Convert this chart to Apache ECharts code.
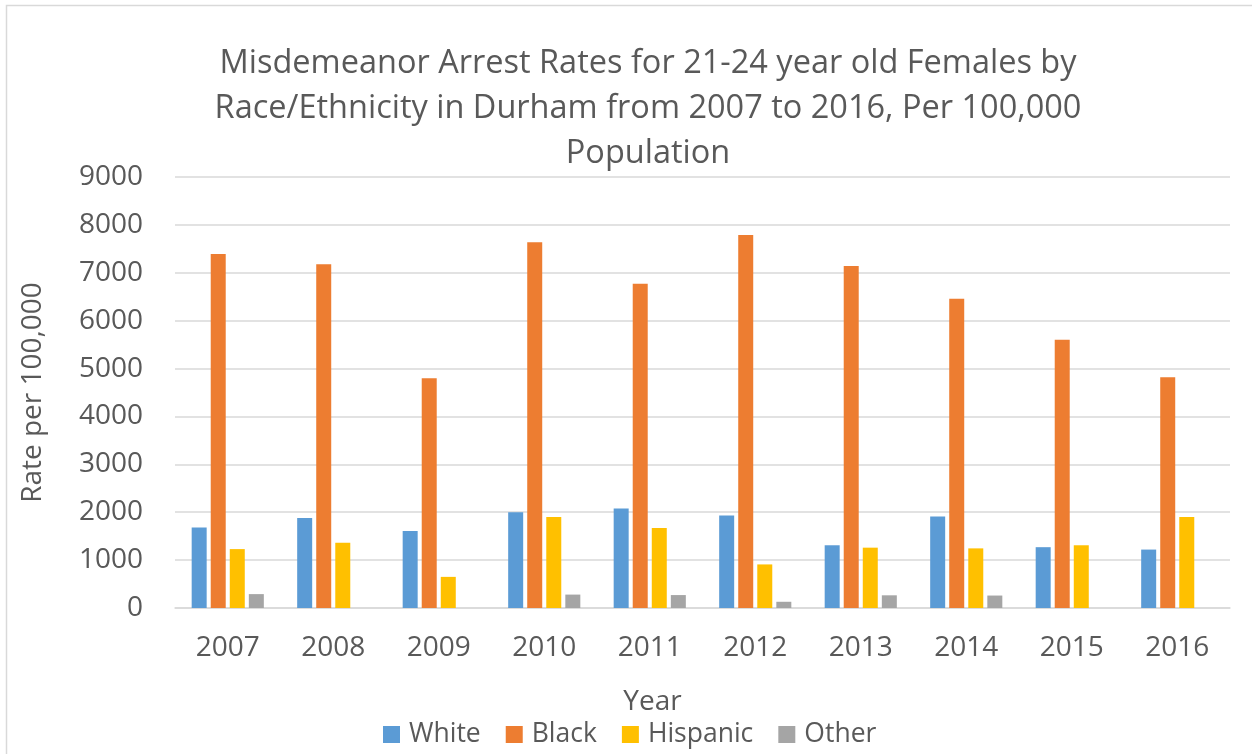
<!DOCTYPE html>
<html>
<head>
<meta charset="utf-8">
<script src="https://cdn.jsdelivr.net/npm/echarts@6/dist/echarts.min.js"></script>
<style>
  html, body { margin: 0; padding: 0; background: #fff; }
  #chart { width: 1252px; height: 754px; }
</style>
</head>
<body>
<div id="chart"></div>
<script>
// years on the x axis
var years = ['2007', '2008', '2009', '2010', '2011', '2012', '2013', '2014', '2015', '2016'];
// rates per 100,000 (null = no bar)
var white = [1680, 1880, 1610, 2000, 2080, 1930, 1310, 1910, 1270, 1220];
var black = [7390, 7180, 4800, 7640, 6770, 7790, 7140, 6460, 5600, 4820];
var hispanic = [1230, 1360, 650, 1900, 1670, 910, 1260, 1245, 1310, 1900];
var other = [290, null, null, 280, 270, 130, 265, 260, null, null];

var textColor = '#595959';
var font = 'Open Sans';

var chart = echarts.init(document.getElementById('chart'));

function bar(name, data, color) {
    return {
        name: name,
        type: 'bar',
        data: data,
        barWidth: 15,
        barGap: '27%',
        itemStyle: { color: color },
        animation: false
    };
}

var option = {
    animation: false,
    title: {
        text: 'Misdemeanor Arrest Rates for 21-24 year old Females by\nRace/Ethnicity in Durham from 2007 to 2016, Per 100,000\nPopulation',
        left: 643,
        top: 36,
        textAlign: 'center',
        textStyle: {
            color: textColor,
            fontFamily: font,
            fontSize: 32.5,
            fontWeight: 'normal',
            lineHeight: 45
        }
    },
    legend: {
        data: ['White', 'Black', 'Hispanic', 'Other'],
        left: 378,
        top: 716,
        itemWidth: 17,
        itemHeight: 17,
        itemGap: 25,
        icon: 'rect',
        textStyle: { color: textColor, fontFamily: font, fontSize: 26.5, padding: [0, 0, 0, 4] }
    },
    grid: { left: 175, right: 22, top: 177, bottom: 146 },
    xAxis: {
        type: 'category',
        data: years,
        name: 'Year',
        nameLocation: 'middle',
        nameGap: 80,
        nameTextStyle: { color: textColor, fontFamily: font, fontSize: 28, padding: [0, 100, 0, 0] },
        axisTick: { show: false },
        axisLine: { lineStyle: { color: '#d9d9d9', width: 1.5 } },
        axisLabel: { color: textColor, fontFamily: font, fontSize: 28, margin: 26 }
    },
    yAxis: {
        type: 'value',
        min: 0,
        max: 9000,
        interval: 1000,
        name: 'Rate per 100,000',
        nameLocation: 'middle',
        nameGap: 128,
        nameTextStyle: { color: textColor, fontFamily: font, fontSize: 28 },
        axisLine: { show: false },
        axisTick: { show: false },
        axisLabel: {
            color: textColor, fontFamily: font, fontSize: 28, margin: 32,
            formatter: function (v) { return String(v); }
        },
        splitLine: { lineStyle: { color: '#d9d9d9', width: 1.5 } }
    },
    graphic: [{
        type: 'rect',
        shape: { x: 6.5, y: 5.5, width: 1300, height: 800 },
        style: { fill: null, stroke: '#d9d9d9', lineWidth: 1.5 },
        silent: true
    }],
    series: [
        bar('White', white, '#5B9BD5'),
        bar('Black', black, '#ED7D31'),
        bar('Hispanic', hispanic, '#FFC000'),
        bar('Other', other, '#A5A5A5')
    ]
};

chart.setOption(option);
</script>
</body>
</html>
